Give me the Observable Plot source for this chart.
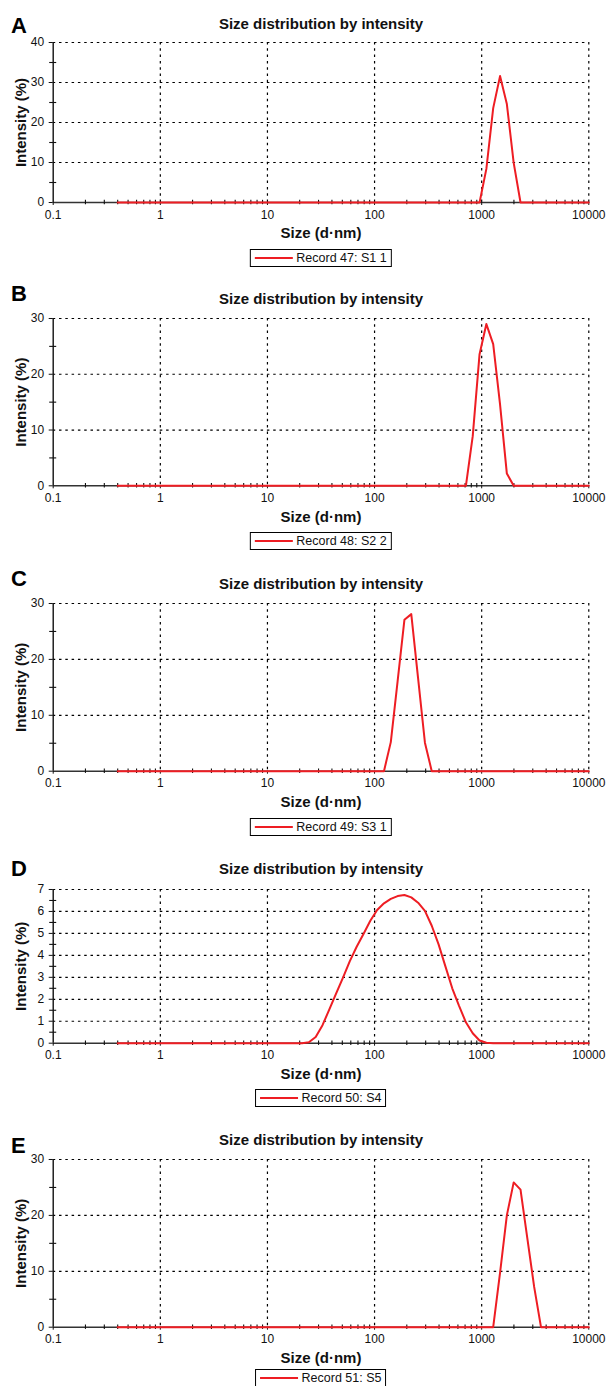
<!DOCTYPE html>
<html>
<head>
<meta charset="utf-8">
<script src="https://cdn.jsdelivr.net/npm/d3@7"></script>
<script src="https://cdn.jsdelivr.net/npm/@observablehq/plot@0.6"></script>
<style>
  html, body { margin: 0; padding: 0; background: #fff; }
  #root { position: relative; width: 607px; height: 1386px; overflow: hidden; font-family: "Liberation Sans", Arial, sans-serif; }
  #root svg { position: absolute; left: 0; overflow: visible; }
  .legend { position: absolute; height: 16px; border: 1px solid #000; background: #fff; display: flex; align-items: center; padding: 0 4px 0 4px; gap: 4px; font-size: 12.5px; color: #111; transform: translateX(-50%); white-space: nowrap; z-index: 2; }
  .legend .sw { display: inline-block; width: 38px; height: 2px; background: #ee1d23; }
</style>
</head>
<body>
<div id="root"></div>
<script>
// Malvern size classes (d.nm)
const sizes = [
  0.4, 0.4632, 0.5365, 0.6213, 0.7195, 0.8332, 0.9649, 1.117, 1.294, 1.499,
  1.736, 2.01, 2.328, 2.696, 3.122, 3.615, 4.187, 4.849, 5.615, 6.503,
  7.531, 8.721, 10.1, 11.7, 13.54, 15.69, 18.17, 21.04, 24.36, 28.21,
  32.67, 37.84, 43.82, 50.75, 58.77, 68.06, 78.82, 91.28, 105.7, 122.4,
  141.8, 164.2, 190.1, 220.2, 255, 295.3, 342, 396.1, 458.7, 531.2,
  615.1, 712.4, 825, 955.4, 1106, 1281, 1484, 1718, 1990, 2305,
  2669, 3091, 3580, 4145, 4801, 5560, 6439, 7456, 8635, 10000
];
const intensityA = [
  0,0,0,0,0,0,0,0,0,0,
  0,0,0,0,0,0,0,0,0,0,
  0,0,0,0,0,0,0,0,0,0,
  0,0,0,0,0,0,0,0,0,0,
  0,0,0,0,0,0,0,0,0,0,
  0,0,0,0,8.4,23.6,31.6,24.6,9.9,0,
  0,0,0,0,0,0,0,0,0,0
];
const intensityB = [
  0,0,0,0,0,0,0,0,0,0,
  0,0,0,0,0,0,0,0,0,0,
  0,0,0,0,0,0,0,0,0,0,
  0,0,0,0,0,0,0,0,0,0,
  0,0,0,0,0,0,0,0,0,0,
  0,0,8.9,23.6,29.0,25.4,14.6,2.2,0,0,
  0,0,0,0,0,0,0,0,0,0
];
const intensityC = [
  0,0,0,0,0,0,0,0,0,0,
  0,0,0,0,0,0,0,0,0,0,
  0,0,0,0,0,0,0,0,0,0,
  0,0,0,0,0,0,0,0,0,0,
  5.2,16.1,27.1,28.1,16.6,5.1,0,0,0,0,
  0,0,0,0,0,0,0,0,0,0,
  0,0,0,0,0,0,0,0,0,0
];
const intensityD = [
  0,0,0,0,0,0,0,0,0,0,
  0,0,0,0,0,0,0,0,0,0,
  0,0,0,0,0,0,0,0,0.04,0.28,
  0.82,1.54,2.27,2.99,3.74,4.39,4.97,5.58,6.07,6.37,
  6.57,6.70,6.75,6.64,6.40,6.03,5.35,4.5,3.5,2.5,
  1.70,0.95,0.45,0.12,0.02,0,0,0,0,0,
  0,0,0,0,0,0,0,0,0,0
];
const intensityE = [
  0,0,0,0,0,0,0,0,0,0,
  0,0,0,0,0,0,0,0,0,0,
  0,0,0,0,0,0,0,0,0,0,
  0,0,0,0,0,0,0,0,0,0,
  0,0,0,0,0,0,0,0,0,0,
  0,0,0,0,0,0,9.7,20.0,25.9,24.6,
  15.9,7.2,0,0,0,0,0,0,0,0
];

const panelLetters = ["A", "B", "C", "D", "E"];
const recordNames = ["Record 47: S1 1", "Record 48: S2 2", "Record 49: S3 1", "Record 50: S4", "Record 51: S5"];
const chartTitle = "Size distribution by intensity";
const xLabel = "Size (d\u00b7nm)";
const yLabel = "Intensity (%)";
const xTickValues = [0.1, 1, 10, 100, 1000, 10000];
const xTickLabels = ["0.1", "1", "10", "100", "1000", "10000"];
const yTicksA = [0, 10, 20, 30, 40];
const yMinorA = [5, 15, 25, 35];
const yTicks30 = [0, 10, 20, 30];
const yMinor30 = [5, 15, 25];
const yTicksD = [0, 1, 2, 3, 4, 5, 6, 7];
const yMinorD = [0.5, 1.5, 2.5, 3.5, 4.5, 5.5, 6.5];

const xMinor = [0.1, 1, 10, 100, 1000].flatMap(b => [2,3,4,5,6,7,8,9].map(m => b * m));

const RED = "#ee1d23";
const FONT = "'Liberation Sans', Arial, Helvetica, sans-serif";

const panels = [
  {values: intensityA, ymax: 40, yTicks: yTicksA, yMinor: yMinorA, top: 42.3, bottom: 202.3, letterDy: -17, titleDy: -18.5, legendTop: 249, xLabelDy: 31},
  {values: intensityB, ymax: 30, yTicks: yTicks30, yMinor: yMinor30, top: 317.7, bottom: 485, letterDy: -25, titleDy: -19.5, legendTop: 532, xLabelDy: 31},
  {values: intensityC, ymax: 30, yTicks: yTicks30, yMinor: yMinor30, top: 603.3, bottom: 771, letterDy: -25, titleDy: -19.5, legendTop: 818, xLabelDy: 31},
  {values: intensityD, ymax: 7, yTicks: yTicksD, yMinor: yMinorD, top: 889, bottom: 1042.7, letterDy: -21, titleDy: -20, legendTop: 1089, xLabelDy: 31},
  {values: intensityE, ymax: 30, yTicks: yTicks30, yMinor: yMinor30, top: 1159, bottom: 1326.7, letterDy: -14, titleDy: -19, legendTop: 1369, xLabelDy: 30.5}
];

const root = document.getElementById("root");
const ML = 52.7, MR = 18.7, MT = 40, MB = 45;

panels.forEach((p, k) => {
  const data = sizes.map((s, i) => ({size: s, intensity: p.values[i]}));
  const plotH = p.bottom - p.top;
  const chart = Plot.plot({
    width: 607,
    height: MT + plotH + MB,
    marginTop: MT, marginBottom: MB, marginLeft: ML, marginRight: MR,
    x: {type: "log", domain: [0.1, 10000]},
    y: {domain: [0, p.ymax]},
    style: {fontFamily: FONT, fontSize: "12px", color: "#111", background: "transparent", overflow: "visible"},
    marks: [
      Plot.gridX({ticks: xTickValues.slice(1), stroke: "#000", strokeOpacity: 1, strokeWidth: 1.2, strokeDasharray: "2.5,3.8"}),
      Plot.gridY({ticks: p.yTicks.filter(t => t > 0), stroke: "#000", strokeOpacity: 1, strokeWidth: 1.2, strokeDasharray: "2.5,3.8"}),
      Plot.ruleX([0.1], {stroke: "#111", strokeWidth: 1.4}),
      Plot.ruleY([0], {stroke: "#333", strokeWidth: 1.4}),
      Plot.ruleX(xMinor, {x: d => d, y1: 0, y2: 0, insetTop: -2.2, insetBottom: -2.2, stroke: "#111", strokeWidth: 1.1}),
      Plot.ruleY(p.yMinor, {y: d => d, x1: 0.1, x2: 0.1, insetLeft: -3.5, insetRight: -3.5, stroke: "#111", strokeWidth: 1.1}),
      Plot.axisX({ticks: xTickValues, tickFormat: d => xTickLabels[xTickValues.indexOf(d)], tickSize: 3, tickPadding: 4.5, label: null, fontSize: 12}),
      Plot.axisY({ticks: p.yTicks, tickFormat: d => String(d), tickSize: 4, tickPadding: 5, label: null, fontSize: 12}),
      Plot.line(data, {x: "size", y: "intensity", stroke: RED, strokeWidth: 2}),
      Plot.text([chartTitle], {text: d => d, frameAnchor: "top", lineAnchor: "middle", textAnchor: "middle", dy: p.titleDy, fontSize: 15, fontWeight: "bold", fill: "#111"}),
      Plot.text([panelLetters[k]], {text: d => d, frameAnchor: "top-left", lineAnchor: "middle", textAnchor: "start", dx: 10.5 - ML, dy: p.letterDy, fontSize: 22, fontWeight: "bold", fill: "#000"}),
      Plot.text([xLabel], {text: d => d, frameAnchor: "bottom", lineAnchor: "middle", textAnchor: "middle", dy: p.xLabelDy, fontSize: 15, fontWeight: "bold", fill: "#111"}),
      Plot.text([yLabel], {text: d => d, frameAnchor: "left", lineAnchor: "middle", textAnchor: "middle", rotate: -90, dx: 20.7 - ML, fontSize: 15, fontWeight: "bold", fill: "#111"})
    ]
  });
  chart.style.top = (p.top - MT) + "px";
  root.appendChild(chart);

  const lg = document.createElement("div");
  lg.className = "legend";
  lg.style.left = (ML + (607 - ML - MR) / 2) + "px";
  lg.style.top = p.legendTop + "px";
  const sw = document.createElement("span");
  sw.className = "sw";
  const tx = document.createElement("span");
  tx.textContent = recordNames[k];
  lg.appendChild(sw);
  lg.appendChild(tx);
  root.appendChild(lg);
});
</script>
</body>
</html>
